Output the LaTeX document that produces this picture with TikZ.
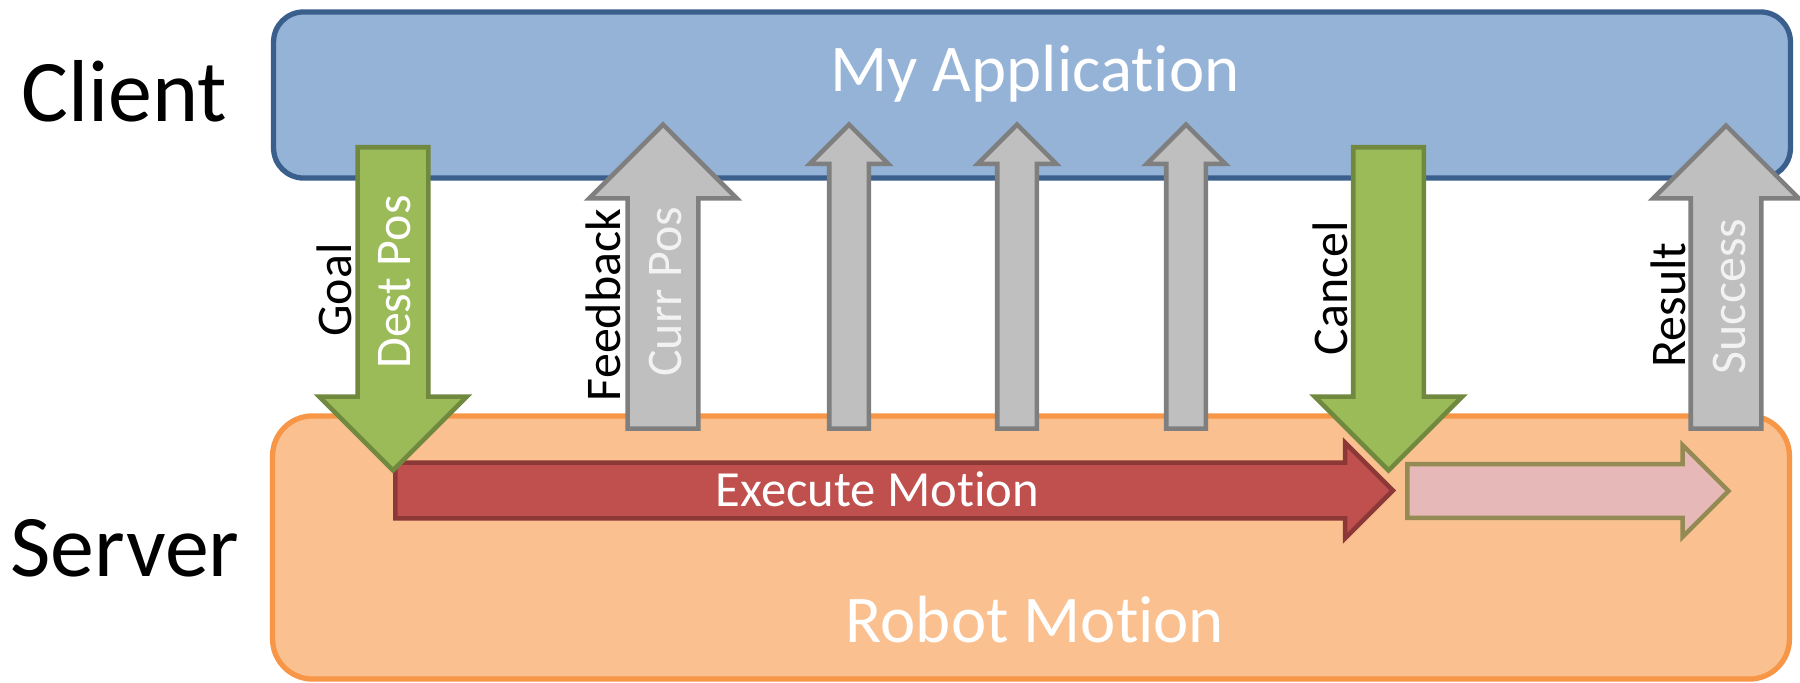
\documentclass[tikz,border=0pt]{standalone}
\usepackage{fontspec}
\setmainfont{Carlito}[Ligatures=NoCommon]
\usetikzlibrary{shapes.arrows}
\definecolor{appfill}{HTML}{95B3D7}
\definecolor{appdraw}{HTML}{3A5F8C}
\definecolor{robotfill}{HTML}{FAC090}
\definecolor{robotdraw}{HTML}{F79646}
\definecolor{goalfill}{HTML}{9BBB59}
\definecolor{goaldraw}{HTML}{71893F}
\definecolor{fbfill}{HTML}{BFBFBF}
\definecolor{fbdraw}{HTML}{7F7F7F}
\definecolor{execfill}{HTML}{C0504D}
\definecolor{execdraw}{HTML}{8C3836}
\definecolor{restfill}{HTML}{E6B9B8}
\definecolor{restdraw}{HTML}{948A54}
\definecolor{paletext}{HTML}{F2F2F2}
\begin{document}
\begin{tikzpicture}
	[x=0.01cm, y=-0.01cm,
	 box/.style={rectangle, inner sep=0, line width=1.5pt},
	 blk/.style={single arrow, single arrow tip angle=90, inner xsep=0, line width=1.3pt},
	 wide/.style={blk, inner ysep=0.33cm, minimum width=1.43cm, single arrow head extend=0.385cm},
	 thin/.style={blk, inner ysep=0.175cm, minimum width=0.74cm, single arrow head extend=0.195cm},
	 side/.style={font=\fontsize{25pt}{30pt}\selectfont},
	 title/.style={text=white, font=\fontsize{19pt}{23pt}\selectfont},
	 vlab/.style={rotate=90, anchor=base, font=\fontsize{14.2pt}{17pt}\selectfont}]
	\useasboundingbox (0,0) rectangle (1800,683);
	% client and server
	\node[box, rounded corners=0.3cm, fill=appfill, draw=appdraw, minimum width=15.16cm, minimum height=1.66cm] (app) at (1032,95) {};
	\node[box, rounded corners=0.4cm, fill=robotfill, draw=robotdraw, minimum width=15.16cm, minimum height=2.63cm] (robot) at (1031,547.5) {};
	\node[side, anchor=base] (client) at (124.5,122) {Client};
	\node[side, anchor=base] (server) at (125,577) {Server};
	\node[title, anchor=base] (apptext) at (1035,92) {My Application};
	\node[title, anchor=base] (robottext) at (1035,643) {Robot Motion};
	% motion
	\node[blk, anchor=tail, fill=execfill, draw=execdraw, inner ysep=0.255cm, minimum width=0.91cm, single arrow head extend=0.20cm, minimum height=9.97cm] (exec) at (393,490.5) {};
	\node[blk, anchor=tail, fill=restfill, draw=restdraw, inner ysep=0.245cm, minimum width=0.87cm, single arrow head extend=0.19cm, minimum height=3.21cm] (rest) at (1405,491) {};
	\node[anchor=base, text=white, font=\fontsize{14.4pt}{17pt}\selectfont] (exectext) at (877.5,507) {Execute Motion};
	% goal, feedback, cancel, result
	\node[wide, rotate=-90, anchor=tail, fill=goalfill, draw=goaldraw, minimum height=3.23cm] (goal) at (393,145) {};
	\node[wide, rotate=90, anchor=tail, fill=fbfill, draw=fbdraw, minimum height=3.04cm] (fb) at (663,431) {};
	\node[thin, rotate=90, anchor=tail, fill=fbfill, draw=fbdraw, minimum height=3.04cm] (fb2) at (849,431) {};
	\node[thin, rotate=90, anchor=tail, fill=fbfill, draw=fbdraw, minimum height=3.04cm] (fb3) at (1017,431) {};
	\node[thin, rotate=90, anchor=tail, fill=fbfill, draw=fbdraw, minimum height=3.04cm] (fb4) at (1186,431) {};
	\node[wide, rotate=-90, anchor=tail, fill=goalfill, draw=goaldraw, minimum height=3.23cm] (cancel) at (1388.5,145) {};
	\node[wide, rotate=90, anchor=tail, fill=fbfill, draw=fbdraw, minimum width=1.41cm, single arrow head extend=0.375cm, minimum height=3.03cm] (result) at (1726,431) {};
	\node[vlab] (goallab) at (351,290) {Goal};
	\node[vlab, text=white] (destpos) at (410,282) {Dest Pos};
	\node[vlab] (fblab) at (620,305) {Feedback};
	\node[vlab, text=paletext] (currpos) at (681,292) {Curr Pos};
	\node[vlab] (cancellab) at (1347,288) {Cancel};
	\node[vlab] (resultlab) at (1685,305) {Result};
	\node[vlab, text=paletext] (success) at (1745,296.5) {Success};
\end{tikzpicture}
\end{document}
